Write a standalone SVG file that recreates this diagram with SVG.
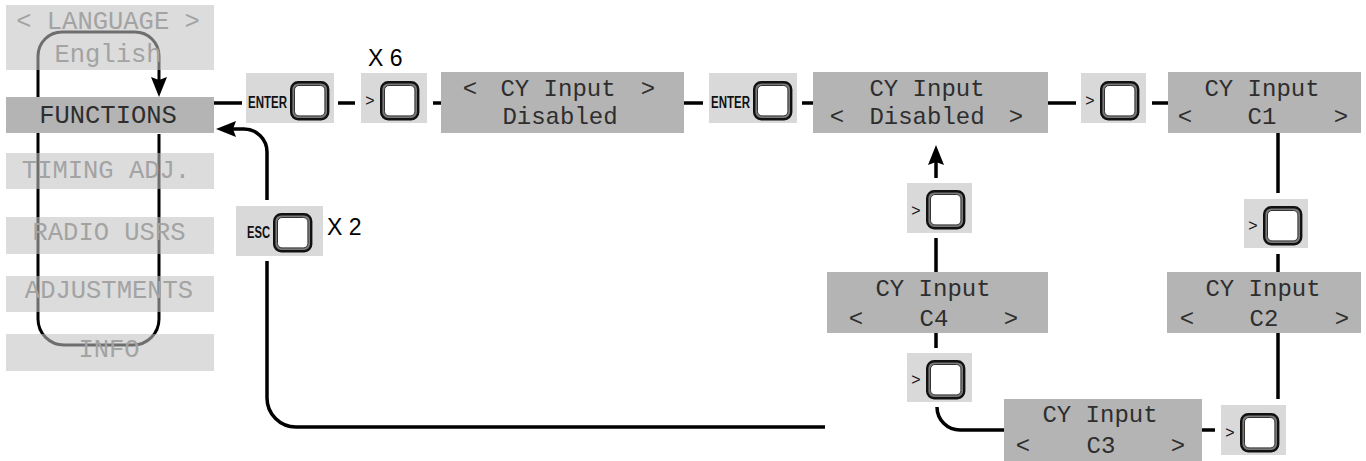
<svg xmlns="http://www.w3.org/2000/svg" xmlns:xlink="http://www.w3.org/1999/xlink" width="1366" height="461" viewBox="0 0 1366 461">
<style>
.menu{fill:rgb(193,193,193);fill-opacity:.57}
.menu-on{fill:#b4b4b4}
.lcd{fill:#b4b4b4}
.btn{fill:#d9d9d9}
.mt{font-family:"Liberation Mono","DejaVu Sans Mono",monospace;font-size:25.5px;fill:#a3a3a3;text-anchor:middle}
.mt-on{fill:#2e2e2e}
.lt{font-family:"Liberation Mono","DejaVu Sans Mono",monospace;font-size:24px;fill:#2e2e2e;text-anchor:middle}
.bl{font-family:"Liberation Sans",Arial,sans-serif;font-size:16px;font-weight:bold;fill:#111}
.gt{font-family:"Liberation Sans",Arial,sans-serif;font-size:16px;fill:#111;text-anchor:middle}
.rep{font-family:"Liberation Sans",Arial,sans-serif;font-size:23px;fill:#000}
.ln{fill:none;stroke:#000;stroke-width:3.5}
.loop{fill:none;stroke:#000;stroke-width:3}
</style>
<defs>
<marker id="ah" viewBox="0 0 20 16" refX="4" refY="8" markerWidth="20" markerHeight="16" markerUnits="userSpaceOnUse" orient="auto">
<path d="M0,0 L20,8 L0,16 L3,8 z" fill="#000"/>
</marker>
<g id="key">
<rect x="1.2" y="1.2" width="37" height="37" rx="7" fill="#7a7a7a" stroke="#111" stroke-width="2.4"/>
<rect x="4.5" y="4.5" width="30.4" height="30.4" rx="4.5" fill="#fff" stroke="#333" stroke-width="1"/>
</g>
</defs>

<g id="connectors">
<path class="loop" d="M159,134 V319 A26 26 0 0 1 133,345 H64 A26 26 0 0 1 38,319 V56 A24 24 0 0 1 62,32 H135 A24 24 0 0 1 159,56 V81" marker-end="url(#ah)"/>
<path class="ln" d="M214,103 H242 M338,103 H355 M433,103 H441 M684,103 H703 M802,103 H813 M1048,103 H1076 M1152,103 H1168"/>
<path class="ln" d="M1278,133 V193 M1278,254 V272 M1278,333 V399 M1202,430 H1215"/>
<path class="ln" d="M1004,430 H960 A23 23 0 0 1 937,407 M936,333 V348 M936,238 V272"/>
<path class="ln" d="M936,178 V161" marker-end="url(#ah)"/>
<path class="ln" d="M825,427 H296 A29 29 0 0 1 267,398 V261"/>
<path class="ln" d="M267,200 V152 A23 23 0 0 0 244,129 H232" marker-end="url(#ah)"/>
</g>

<g id="menu-language"><rect class="menu" x="6" y="5" width="208" height="65"/><text class="mt" x="108" y="29" xml:space="preserve">&lt; LANGUAGE &gt;</text><text class="mt" x="108" y="62">English</text></g>
<g id="menu-functions"><rect class="menu-on" x="6" y="97" width="208" height="36"/><text class="mt mt-on" x="108" y="123">FUNCTIONS</text></g>
<g id="menu-timing"><rect class="menu" x="6" y="153" width="208" height="36"/><text class="mt" x="106" y="178">TIMING ADJ.</text></g>
<g id="menu-radio"><rect class="menu" x="6" y="217" width="208" height="37"/><text class="mt" x="109" y="240">RADIO USRS</text></g>
<g id="menu-adjustments"><rect class="menu" x="6" y="276" width="208" height="36"/><text class="mt" x="109" y="298">ADJUSTMENTS</text></g>
<g id="menu-info"><rect class="menu" x="6" y="334" width="208" height="37"/><text class="mt" x="109" y="357">INFO</text></g>

<g id="btn-enter1"><rect class="btn" x="246" y="73" width="88" height="50"/><text class="bl" x="248" y="108" textLength="39" lengthAdjust="spacingAndGlyphs">ENTER</text><use xlink:href="#key" href="#key" x="290" y="81"/></g>
<g id="btn-next1"><rect class="btn" x="361" y="73" width="66" height="50"/><text class="gt" x="370" y="106">&gt;</text><use xlink:href="#key" href="#key" x="380" y="81"/><text class="rep" x="368" y="66">X 6</text></g>
<g id="lcd-cy-disabled"><rect class="lcd" x="441" y="72" width="243" height="61"/><text class="lt" x="470" y="96">&lt;</text><text class="lt" x="558" y="96">CY Input</text><text class="lt" x="648" y="96">&gt;</text><text class="lt" x="560" y="124">Disabled</text></g>
<g id="btn-enter2"><rect class="btn" x="709" y="73" width="88" height="50"/><text class="bl" x="711" y="108" textLength="39" lengthAdjust="spacingAndGlyphs">ENTER</text><use xlink:href="#key" href="#key" x="753" y="81"/></g>
<g id="lcd-cy-edit"><rect class="lcd" x="813" y="72" width="235" height="61"/><text class="lt" x="927" y="96">CY Input</text><text class="lt" x="837" y="124">&lt;</text><text class="lt" x="927" y="124">Disabled</text><text class="lt" x="1016" y="124">&gt;</text></g>
<g id="btn-next2"><rect class="btn" x="1081" y="73" width="65" height="50"/><text class="gt" x="1090" y="106">&gt;</text><use xlink:href="#key" href="#key" x="1100" y="81"/></g>
<g id="lcd-c1"><rect class="lcd" x="1168" y="72" width="193" height="61"/><text class="lt" x="1262" y="96">CY Input</text><text class="lt" x="1185" y="124">&lt;</text><text class="lt" x="1262" y="124">C1</text><text class="lt" x="1341" y="124">&gt;</text></g>
<g id="btn-next3"><rect class="btn" x="1244" y="199" width="64" height="49"/><text class="gt" x="1253" y="231">&gt;</text><use xlink:href="#key" href="#key" x="1263" y="206"/></g>
<g id="lcd-c2"><rect class="lcd" x="1167" y="272" width="194" height="61"/><text class="lt" x="1263" y="296">CY Input</text><text class="lt" x="1187" y="326">&lt;</text><text class="lt" x="1264" y="326">C2</text><text class="lt" x="1342" y="326">&gt;</text></g>
<g id="btn-next4"><rect class="btn" x="1221" y="405" width="65" height="50"/><text class="gt" x="1230" y="438">&gt;</text><use xlink:href="#key" href="#key" x="1240" y="413"/></g>
<g id="lcd-c3"><rect class="lcd" x="1004" y="399" width="198" height="62"/><text class="lt" x="1100" y="422">CY Input</text><text class="lt" x="1023" y="453">&lt;</text><text class="lt" x="1101" y="453">C3</text><text class="lt" x="1178" y="453">&gt;</text></g>
<g id="btn-next5"><rect class="btn" x="907" y="353" width="65" height="49"/><text class="gt" x="916" y="385">&gt;</text><use xlink:href="#key" href="#key" x="926" y="360"/></g>
<g id="lcd-c4"><rect class="lcd" x="827" y="272" width="221" height="61"/><text class="lt" x="933" y="296">CY Input</text><text class="lt" x="856" y="326">&lt;</text><text class="lt" x="934" y="326">C4</text><text class="lt" x="1011" y="326">&gt;</text></g>
<g id="btn-next6"><rect class="btn" x="907" y="183" width="65" height="50"/><text class="gt" x="916" y="216">&gt;</text><use xlink:href="#key" href="#key" x="926" y="190"/></g>
<g id="btn-esc"><rect class="btn" x="236" y="206" width="87" height="50"/><text class="bl" x="247" y="238" textLength="23" lengthAdjust="spacingAndGlyphs">ESC</text><use xlink:href="#key" href="#key" x="273" y="213"/><text class="rep" x="327" y="235">X 2</text></g>
</svg>
